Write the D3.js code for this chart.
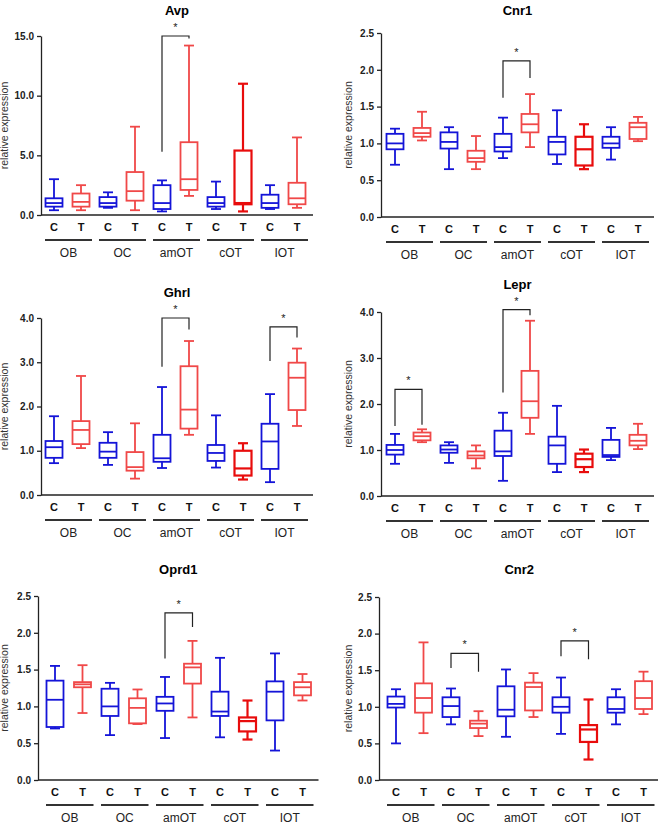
<!DOCTYPE html>
<html>
<head>
<meta charset="utf-8">
<script src="https://cdn.jsdelivr.net/npm/d3@7"></script>
<style>
  body { margin: 0; background: #fff; }
  text { font-family: "Liberation Sans", Arial, sans-serif; }
</style>
</head>
<body>
<svg id="chart" width="658" height="825"></svg>
<script>
// groups and treatment per box
var groups = ["OB", "OC", "amOT", "cOT", "IOT"];
var treat = ["C", "T"];

// [min, q1, median, q3, max] for each box, C then T per group
var avp = [[0.4,0.7,1.0,1.4,3.0],[0.4,0.7,1.1,1.8,2.5],[0.6,0.7,1.0,1.5,1.9],[0.4,1.2,2.0,3.6,7.4],
  [0.3,0.5,1.0,2.5,2.9],[1.6,2.1,3.0,6.1,14.2],[0.5,0.7,1.0,1.5,2.8],[0.3,0.9,1.0,5.4,11.0],
  [0.5,0.6,1.0,1.7,2.5],[0.6,0.9,1.4,2.7,6.5]];
var cnr1 = [[0.71,0.92,1.0,1.13,1.2],[1.04,1.09,1.14,1.21,1.43],[0.65,0.93,1.02,1.15,1.22],[0.65,0.75,0.80,0.90,1.10],
  [0.80,0.89,0.95,1.13,1.35],[0.95,1.15,1.26,1.40,1.67],[0.72,0.85,1.02,1.09,1.45],[0.65,0.70,0.92,1.09,1.26],
  [0.78,0.94,1.00,1.09,1.22],[1.03,1.06,1.22,1.28,1.36]];
var ghrl = [[0.72,0.84,1.08,1.22,1.78],[1.06,1.15,1.47,1.67,2.69],[0.68,0.84,0.98,1.18,1.42],[0.37,0.55,0.63,0.97,1.62],
  [0.61,0.75,0.83,1.36,2.44],[1.36,1.50,1.93,2.91,3.48],[0.62,0.77,0.95,1.13,1.80],[0.35,0.44,0.60,1.00,1.17],
  [0.29,0.59,1.21,1.61,2.28],[1.56,1.92,2.65,2.99,3.31]];
var lepr = [[0.70,0.90,1.00,1.11,1.35],[1.17,1.21,1.30,1.38,1.45],[0.72,0.94,1.01,1.10,1.17],[0.60,0.82,0.88,0.97,1.10],
  [0.33,0.87,0.97,1.42,1.81],[1.35,1.70,2.06,2.72,3.81],[0.52,0.70,1.10,1.29,1.96],[0.52,0.63,0.80,0.92,1.01],
  [0.78,0.85,0.89,1.22,1.48],[1.02,1.10,1.20,1.33,1.57]];
var oprd1 = [[0.70,0.72,1.09,1.35,1.55],[0.91,1.26,1.30,1.33,1.56],[0.61,0.87,1.00,1.24,1.32],[0.76,0.77,0.98,1.11,1.23],
  [0.57,0.94,1.04,1.13,1.40],[0.85,1.31,1.53,1.58,1.89],[0.58,0.87,0.93,1.20,1.66],[0.55,0.66,0.80,0.85,1.08],
  [0.40,0.81,1.20,1.34,1.72],[1.08,1.15,1.26,1.33,1.44]];
var cnr2 = [[0.50,0.99,1.04,1.14,1.24],[0.64,0.92,1.12,1.32,1.88],[0.76,0.86,1.01,1.13,1.25],[0.60,0.71,0.77,0.81,0.94],
  [0.59,0.87,0.96,1.28,1.51],[0.86,0.95,1.27,1.33,1.46],[0.63,0.92,1.00,1.13,1.40],[0.28,0.52,0.69,0.75,1.10],
  [0.76,0.92,0.97,1.13,1.24],[0.90,0.97,1.12,1.35,1.48]];

// significance brackets: group, left leg bottom, top, right leg bottom
var avpSig = [["amOT", 5.3, 15.0, 14.8]];
var cnr1Sig = [["amOT", 1.62, 2.12, 1.89]];
var ghrlSig = [["amOT", 2.9, 4.0, 3.74], ["IOT", 3.03, 3.8, 3.56]];
var leprSig = [["OB", 1.52, 2.32, 1.55], ["amOT", 2.25, 4.05, 3.93]];
var oprd1Sig = [["amOT", 1.65, 2.27, 2.08]];
var cnr2Sig = [["OC", 1.53, 1.73, 1.48], ["cOT", 1.69, 1.9, 1.65]];

var yTicks15 = [0, 5, 10, 15];
var yTicks25 = [0, 0.5, 1, 1.5, 2, 2.5];
var yTicks4 = [0, 1, 2, 3, 4];

var panels = [
  {name: "Avp", data: avp, sig: avpSig, ticks: yTicks15, ax: 41, top: 36, bottom: 215, x0: 54, step: 27, titleY: 15, labX: 8},
  {name: "Cnr1", data: cnr1, sig: cnr1Sig, ticks: yTicks25, ax: 381, top: 33, bottom: 217, x0: 395, step: 27, titleY: 15, labX: 352},
  {name: "Ghrl", data: ghrl, sig: ghrlSig, ticks: yTicks4, ax: 41, top: 318, bottom: 495, x0: 54, step: 27, titleY: 297, labX: 8},
  {name: "Lepr", data: lepr, sig: leprSig, ticks: yTicks4, ax: 381, top: 312, bottom: 496, x0: 395, step: 27, titleY: 289, labX: 352},
  {name: "Oprd1", data: oprd1, sig: oprd1Sig, ticks: yTicks25, ax: 38, top: 596, bottom: 780, x0: 55, step: 27.5, titleY: 574, labX: 8},
  {name: "Cnr2", data: cnr2, sig: cnr2Sig, ticks: yTicks25, ax: 379, top: 597, bottom: 780, x0: 396, step: 27.5, titleY: 574, labX: 352}
];

var blue = "#1414d8", red = "#f04848", darkRed = "#e80c0c";
var svg = d3.select("#chart");

panels.forEach(function(p)
{
  var g = svg.append("g");
  var maxV = d3.max(p.ticks);
  var y = d3.scaleLinear().domain([0, maxV]).range([p.bottom, p.top]);
  var xs = d3.range(10).map(function(i) { return p.x0 + i * p.step; });
  var right = xs[9] + 16;

  g.append("text").attr("x", (p.ax + right) / 2).attr("y", p.titleY)
    .attr("text-anchor", "middle").attr("font-weight", "bold").attr("font-size", 13).text(p.name);

  var yAxis = g.append("g").attr("transform", "translate(" + p.ax + ",0)")
    .call(d3.axisLeft(y).tickValues(p.ticks).tickFormat(d3.format(".1f")).tickSize(4).tickSizeOuter(0));
  yAxis.selectAll("text").attr("font-weight", "bold").attr("font-size", 10).attr("fill", "#222");
  yAxis.selectAll("line,path").attr("stroke", "#222").attr("stroke-width", 1.3);

  g.append("line").attr("x1", p.ax).attr("x2", right).attr("y1", p.bottom).attr("y2", p.bottom)
    .attr("stroke", "#222").attr("stroke-width", 1.3);

  g.append("text").attr("transform", "translate(" + p.labX + "," + ((p.top + p.bottom) / 2) + ") rotate(-90)")
    .attr("text-anchor", "middle").attr("font-size", 10.5).attr("fill", "#333").text("relative expression");

  p.data.forEach(function(d, i)
  {
    var cx = xs[i];
    var isT = i % 2 == 1;
    var col = !isT ? blue : (i == 7 ? darkRed : red);
    var sw = (i == 7) ? 2.2 : 1.8;
    var hw = 8.5;
    var b = g.append("g").attr("stroke", col).attr("stroke-width", sw).attr("fill", "none");
    b.append("line").attr("x1", cx).attr("x2", cx).attr("y1", y(d[0])).attr("y2", y(d[1]));
    b.append("line").attr("x1", cx).attr("x2", cx).attr("y1", y(d[3])).attr("y2", y(d[4]));
    b.append("line").attr("x1", cx - 5).attr("x2", cx + 5).attr("y1", y(d[0])).attr("y2", y(d[0]));
    b.append("line").attr("x1", cx - 5).attr("x2", cx + 5).attr("y1", y(d[4])).attr("y2", y(d[4]));
    b.append("rect").attr("x", cx - hw).attr("width", hw * 2).attr("y", y(d[3])).attr("height", y(d[1]) - y(d[3]));
    b.append("line").attr("x1", cx - hw).attr("x2", cx + hw).attr("y1", y(d[2])).attr("y2", y(d[2]));

    g.append("text").attr("x", cx).attr("y", p.bottom + 16).attr("text-anchor", "middle")
      .attr("font-weight", "bold").attr("font-size", 11).attr("fill", "#111").text(treat[i % 2]);
  });

  groups.forEach(function(name, k)
  {
    var a = xs[k * 2], c = xs[k * 2 + 1];
    g.append("line").attr("x1", a - 9).attr("x2", c + 11).attr("y1", p.bottom + 25).attr("y2", p.bottom + 25)
      .attr("stroke", "#333").attr("stroke-width", 1.8);
    g.append("text").attr("x", (a + c) / 2 + 1).attr("y", p.bottom + 42).attr("text-anchor", "middle")
      .attr("font-size", 12).attr("fill", "#222").text(name);
  });

  p.sig.forEach(function(s)
  {
    var k = groups.indexOf(s[0]);
    var a = xs[k * 2], c = xs[k * 2 + 1];
    g.append("path").attr("fill", "none").attr("stroke", "#222").attr("stroke-width", 1.2)
      .attr("d", "M" + a + "," + y(s[1]) + "V" + y(s[2]) + "H" + c + "V" + y(s[3]));
    g.append("text").attr("x", (a + c) / 2).attr("y", y(s[2]) - 5).attr("text-anchor", "middle")
      .attr("font-size", 11).attr("fill", "#222").text("*");
  });
});
</script>
</body>
</html>
